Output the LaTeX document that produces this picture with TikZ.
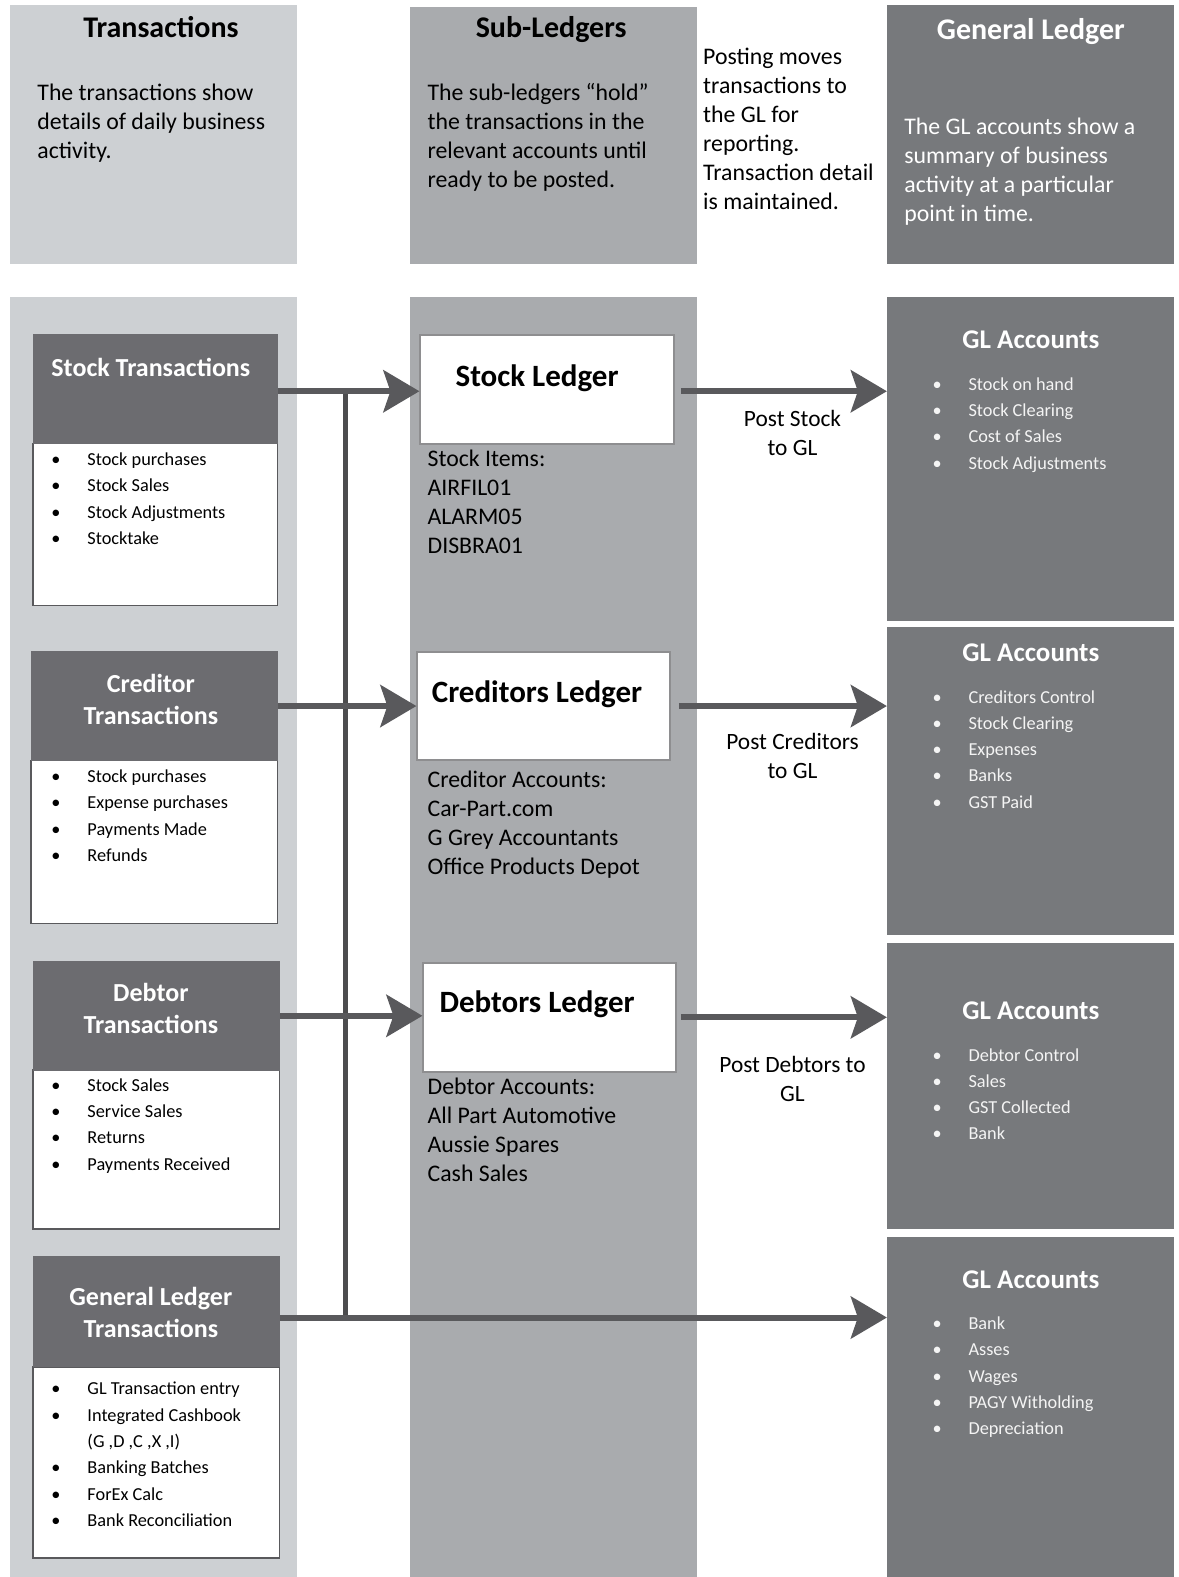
\documentclass[tikz,border=0pt]{standalone}
\usepackage{fontspec}
\setmainfont{Carlito}
\usetikzlibrary{arrows.meta,calc,fit}
\definecolor{pA}{HTML}{CDD0D3}
\definecolor{pB}{HTML}{A9ABAE}
\definecolor{pC}{HTML}{77797C}
\definecolor{hdr}{HTML}{6C6C70}
\definecolor{arr}{HTML}{59595C}
\definecolor{lbord}{HTML}{8E8E90}
\definecolor{wtxt}{HTML}{F4F4F4}
\newcommand{\fTitle}{\fontsize{30}{36}\selectfont\bfseries}
\newcommand{\fDesc}{\fontsize{23.8}{29}\selectfont}
\newcommand{\fHead}{\fontsize{26}{32}\selectfont\bfseries}
\newcommand{\fLed}{\fontsize{31}{37}\selectfont\bfseries}
\newcommand{\fItem}{\fontsize{18.3}{26.3}\selectfont}
\newcommand{\fGLt}{\fontsize{27}{32}\selectfont\bfseries}
\newcommand{\fLab}{\fontsize{23.4}{29.5}\selectfont}
\newcommand{\lft}[1]{\begin{tabular}[t]{@{}l@{}}#1\end{tabular}}
\newcommand{\ctr}[1]{\begin{tabular}[t]{@{}c@{}}#1\end{tabular}}
\newcommand{\bi}[1]{\makebox[36pt][l]{\textbullet}#1}
\newcommand{\mkbox}[6]{\node[#6, fit={(#2,#3)(#4,#5)}, inner sep=0pt] (#1) {};}
\begin{document}
\begin{tikzpicture}[x=1.006pt,y=-1.006pt,
  txt/.style={inner sep=0pt, anchor=base west},
  ctxt/.style={inner sep=0pt, anchor=base},
  hbox/.style={fill=hdr, draw=hdr, line width=1pt},
  bbox/.style={fill=white, draw=arr, line width=1.5pt},
  lbox/.style={fill=white, draw=lbord, line width=2pt},
  glbox/.style={fill=pC},
  conn/.style={draw=arr, line width=6pt, -{Stealth[length=36pt,width=42pt,inset=7pt]}},
  vline/.style={draw=arr!85!black, line width=5pt}
]
\useasboundingbox (0,0) rectangle (1172,1568);
\fill[white] (0,0) rectangle (1172,1568);
% column panels
\fill[pA] (10,5) rectangle (295,262);
\fill[pB] (408,7) rectangle (693,262);
\fill[pC] (882,5) rectangle (1167,262);
\fill[pA] (10,295) rectangle (295,1568);
\fill[pB] (408,295) rectangle (693,1568);
% header texts
\node[ctxt, font=\fTitle] (t1) at (160,37) {Transactions};
\node[ctxt, font=\fTitle] (t2) at (548,37) {Sub-Ledgers};
\node[ctxt, font=\fTitle, text=white] (t3) at (1025,39) {General Ledger};
\node[txt, font=\fDesc] (d1) at (37,100) {\lft{The transactions show\\details of daily business\\activity.}};
\node[txt, font=\fDesc] (d2) at (425,100) {\lft{The sub-ledgers “hold”\\the transactions in the\\relevant accounts until\\ready to be posted.}};
\node[txt, font=\fDesc] (d3) at (699,64) {\lft{Posting moves\\transactions to\\the GL for\\reporting.\\Transaction detail\\is maintained.}};
\node[txt, font=\fDesc, text=white] (d4) at (899,134) {\lft{The GL accounts show a\\summary of business\\activity at a particular\\point in time.}};
% GL account boxes
\mkbox{g1}{882}{295}{1167}{617}{glbox}
\mkbox{g2}{882}{623}{1167}{930}{glbox}
\mkbox{g3}{882}{938}{1167}{1222}{glbox}
\mkbox{g4}{882}{1230}{1167}{1568}{glbox}
% transaction boxes
\mkbox{sb}{33}{441}{276}{602}{bbox}
\mkbox{st}{33}{333}{276}{441}{hbox}
\mkbox{cb}{31}{756}{276}{918}{bbox}
\mkbox{ct}{31}{648}{276}{756}{hbox}
\mkbox{db}{33}{1064}{278}{1222}{bbox}
\mkbox{dt}{33}{956}{278}{1064}{hbox}
\mkbox{gb}{33}{1359}{278}{1549}{bbox}
\mkbox{gt}{33}{1249}{278}{1359}{hbox}
% ledger boxes
\mkbox{sl}{418}{333}{670}{441}{lbox}
\mkbox{cl}{415}{648}{666}{756}{lbox}
\mkbox{dl}{421}{957}{672}{1066}{lbox}
% header titles in transaction boxes
\node[ctxt, font=\fHead, text=white] (stt) at (150,374) {Stock Transactions};
\node[ctxt, font=\fHead, text=white] (ctt) at (150,689) {\ctr{Creditor\\Transactions}};
\node[ctxt, font=\fHead, text=white] (dtt) at (150,996) {\ctr{Debtor\\Transactions}};
\node[ctxt, font=\fHead, text=white] (gtt) at (150,1298) {\ctr{General Ledger\\Transactions}};
% bullet lists
\node[txt, font=\fItem] (sbl) at (51,463) {\lft{\bi{Stock purchases}\\\bi{Stock Sales}\\\bi{Stock Adjustments}\\\bi{Stocktake}}};
\node[txt, font=\fItem] (cbl) at (51,778) {\lft{\bi{Stock purchases}\\\bi{Expense purchases}\\\bi{Payments Made}\\\bi{Refunds}}};
\node[txt, font=\fItem] (dbl) at (51,1085) {\lft{\bi{Stock Sales}\\\bi{Service Sales}\\\bi{Returns}\\\bi{Payments Received}}};
\node[txt, font=\fItem] (gbl) at (51,1387) {\lft{\bi{GL Transaction entry}\\\bi{Integrated Cashbook}\\\hspace*{36pt}(G ,D ,C ,X ,I)\\\bi{Banking Batches}\\\bi{ForEx Calc}\\\bi{Bank Reconciliation}}};
% ledger titles
\node[ctxt, font=\fLed] (slt) at (534,384) {Stock Ledger};
\node[ctxt, font=\fLed] (clt) at (534,698) {Creditors Ledger};
\node[ctxt, font=\fLed] (dlt) at (534,1007) {Debtors Ledger};
% ledger contents
\node[txt, font=\fDesc] (sli) at (425,464) {\lft{Stock Items:\\AIRFIL01\\ALARM05\\DISBRA01}};
\node[txt, font=\fDesc] (cli) at (425,783) {\lft{Creditor Accounts:\\Car-Part.com\\G Grey Accountants\\Office Products Depot}};
\node[txt, font=\fDesc] (dli) at (425,1088) {\lft{Debtor Accounts:\\All Part Automotive\\Aussie Spares\\Cash Sales}};
% GL account contents
\node[ctxt, font=\fGLt, text=white] (g1t) at (1025,347) {GL Accounts};
\node[ctxt, font=\fGLt, text=white] (g2t) at (1025,658) {GL Accounts};
\node[ctxt, font=\fGLt, text=white] (g3t) at (1025,1014) {GL Accounts};
\node[ctxt, font=\fGLt, text=white] (g4t) at (1025,1281) {GL Accounts};
\node[txt, font=\fItem, text=wtxt] (g1l) at (927,388) {\lft{\bi{Stock on hand}\\\bi{Stock Clearing}\\\bi{Cost of Sales}\\\bi{Stock Adjustments}}};
\node[txt, font=\fItem, text=wtxt] (g2l) at (927,699) {\lft{\bi{Creditors Control}\\\bi{Stock Clearing}\\\bi{Expenses}\\\bi{Banks}\\\bi{GST Paid}}};
\node[txt, font=\fItem, text=wtxt] (g3l) at (927,1055) {\lft{\bi{Debtor Control}\\\bi{Sales}\\\bi{GST Collected}\\\bi{Bank}}};
\node[txt, font=\fItem, text=wtxt] (g4l) at (927,1322) {\lft{\bi{Bank}\\\bi{Asses}\\\bi{Wages}\\\bi{PAGY Witholding}\\\bi{Depreciation}}};
% arrow labels
\node[ctxt, font=\fLab] (l1) at (788,424) {\ctr{Post Stock\\to GL}};
\node[ctxt, font=\fLab] (l2) at (788,745) {\ctr{Post Creditors\\to GL}};
\node[ctxt, font=\fLab] (l3) at (788,1066) {\ctr{Post Debtors to\\GL}};
% connectors
\coordinate (vt) at (344,389);
\coordinate (vb) at (344,1310);
\draw[vline] (vt) -- (vb);
\draw[conn] (st.east |- vt) -- (vt -| sl.west);
\draw[conn] (ct.east) -- (ct.east -| cl.west);
\draw[conn] (dt.east) -- (dt.east -| dl.west);
\draw[conn] (gt.east |- vb) -- (vb -| g4.west);
\draw[conn, shorten <=6pt] (sl.east |- vt) -- (vt -| g1.west);
\draw[conn, shorten <=8pt] (cl.east) -- (cl.east -| g2.west);
\draw[conn, shorten <=4pt] (dl.east) -- (dl.east -| g3.west);
\end{tikzpicture}
\end{document}
